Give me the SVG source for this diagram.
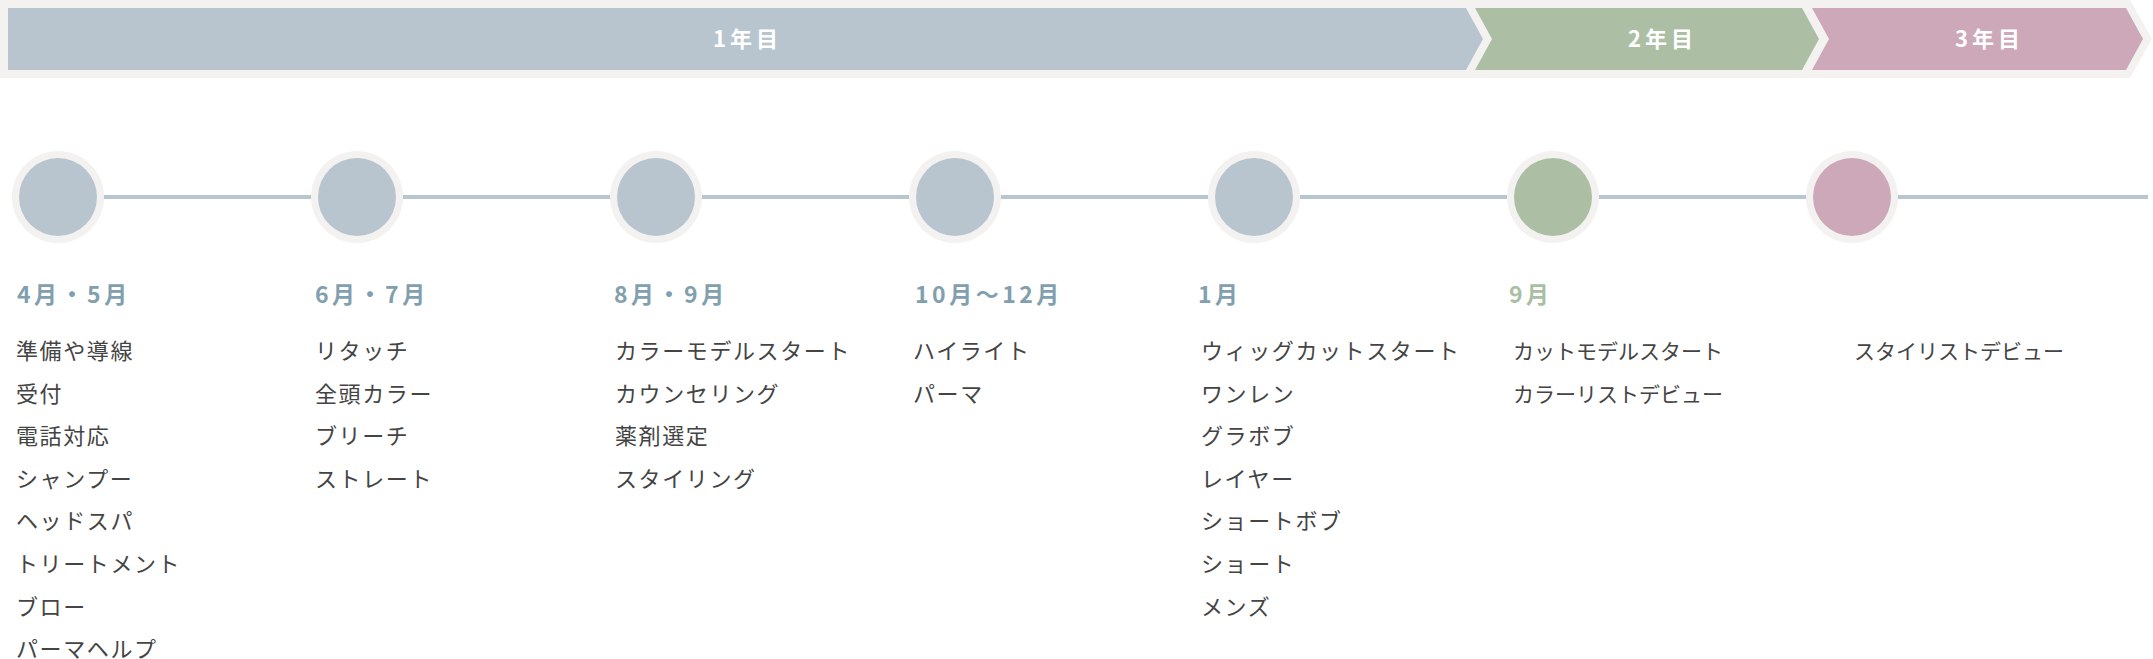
<svg xmlns="http://www.w3.org/2000/svg" width="2153" height="659" viewBox="0 0 2153 659">
<style>
.yr{font-family:"Noto Sans CJK JP","Noto Sans",sans-serif;font-size:22px;font-weight:700;fill:#ffffff;letter-spacing:4px}
.mo{font-family:"Noto Sans CJK JP","Noto Sans",sans-serif;font-size:23px;font-weight:700;fill:#819fae;letter-spacing:3.5px}
.mo2{fill:#a9bfa3}
.it{font-family:"Noto Sans CJK JP","Noto Sans",sans-serif;font-size:22px;font-weight:400;fill:#444444;letter-spacing:1.6px}
.it2{font-size:21px;letter-spacing:0px}
.halo{fill:#f3f2f0}
.c1{fill:#b8c5ce}
.c2{fill:#acbfa5}
.c3{fill:#cca8b9}
</style>
<rect width="2153" height="659" fill="#ffffff"/>
<g id="header">
<polygon class="halo" points="0,0 2130,0 2152,39 2130,78 0,78"/>
<polygon id="year1" class="c1" points="8,8 1466,8 1483,39 1466,70 8,70"/>
<polygon id="year2" class="c2" points="1475,8 1802,8 1819,39 1802,70 1475,70 1492,39"/>
<polygon id="year3" class="c3" points="1812,8 2126,8 2143,39 2126,70 1812,70 1829,39"/>
<text class="yr" x="713" y="47">1年目</text>
<text class="yr" x="1628" y="47">2年目</text>
<text class="yr" x="1955" y="47">3年目</text>
</g>
<g id="connectors">
<line x1="58" y1="197" x2="2148" y2="197" stroke="#b8c6cf" stroke-width="4"/>
</g>
<g id="n1">
<circle class="halo" cx="58" cy="197" r="46"/><circle class="c1" cx="58" cy="197" r="39"/>
<text class="mo" x="17" y="303">4月・5月</text>
<text class="it" x="16" y="359">準備や導線</text>
<text class="it" x="16" y="401.6">受付</text>
<text class="it" x="16" y="444.2">電話対応</text>
<text class="it" x="16" y="486.8">シャンプー</text>
<text class="it" x="16" y="529.4">ヘッドスパ</text>
<text class="it" x="16" y="572">トリートメント</text>
<text class="it" x="16" y="614.6">ブロー</text>
<text class="it" x="16" y="657.2">パーマヘルプ</text>
</g>
<g id="n2">
<circle class="halo" cx="357" cy="197" r="46"/><circle class="c1" cx="357" cy="197" r="39"/>
<text class="mo" x="315" y="303">6月・7月</text>
<text class="it" x="315" y="359">リタッチ</text>
<text class="it" x="315" y="401.6">全頭カラー</text>
<text class="it" x="315" y="444.2">ブリーチ</text>
<text class="it" x="315" y="486.8">ストレート</text>
</g>
<g id="n3">
<circle class="halo" cx="656" cy="197" r="46"/><circle class="c1" cx="656" cy="197" r="39"/>
<text class="mo" x="614" y="303">8月・9月</text>
<text class="it" x="615" y="359">カラーモデルスタート</text>
<text class="it" x="615" y="401.6">カウンセリング</text>
<text class="it" x="615" y="444.2">薬剤選定</text>
<text class="it" x="615" y="486.8">スタイリング</text>
</g>
<g id="n4">
<circle class="halo" cx="955" cy="197" r="46"/><circle class="c1" cx="955" cy="197" r="39"/>
<text class="mo" x="915" y="303">10月〜12月</text>
<text class="it" x="913" y="359">ハイライト</text>
<text class="it" x="913" y="401.6">パーマ</text>
</g>
<g id="n5">
<circle class="halo" cx="1254" cy="197" r="46"/><circle class="c1" cx="1254" cy="197" r="39"/>
<text class="mo" x="1198" y="303">1月</text>
<text class="it" x="1201" y="359">ウィッグカットスタート</text>
<text class="it" x="1201" y="401.6">ワンレン</text>
<text class="it" x="1201" y="444.2">グラボブ</text>
<text class="it" x="1201" y="486.8">レイヤー</text>
<text class="it" x="1201" y="529.4">ショートボブ</text>
<text class="it" x="1201" y="572">ショート</text>
<text class="it" x="1201" y="614.6">メンズ</text>
</g>
<g id="n6">
<circle class="halo" cx="1553" cy="197" r="46"/><circle class="c2" cx="1553" cy="197" r="39"/>
<text class="mo mo2" x="1509" y="303">9月</text>
<text class="it it2" x="1513" y="359">カットモデルスタート</text>
<text class="it it2" x="1513" y="401.6">カラーリストデビュー</text>
</g>
<g id="n7">
<circle class="halo" cx="1852" cy="197" r="46"/><circle class="c3" cx="1852" cy="197" r="39"/>
<text class="it it2" x="1854" y="359">スタイリストデビュー</text>
</g>
</svg>
